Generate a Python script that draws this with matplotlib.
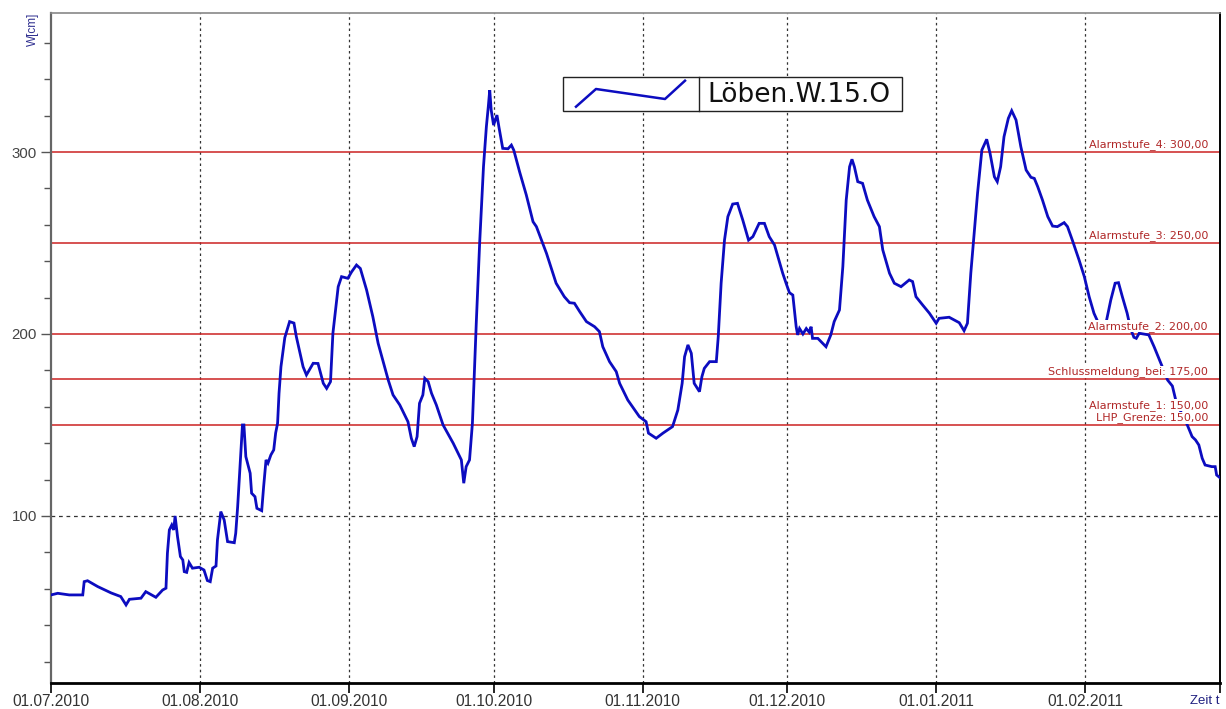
import numpy as np
import pandas as pd
import matplotlib
matplotlib.use("Agg")
import matplotlib.pyplot as plt
import matplotlib.dates as mdates
from matplotlib.patches import Rectangle
from matplotlib.lines import Line2D

plt.rcParams['font.family'] = ['Liberation Sans', 'DejaVu Sans']

# ---------------- data ----------------
start_date = "2010-07-01"
end_date = "2011-03-01"
series_name = "Löben.W.15.O"

# days since 01.07.2010
days = [0.0, 1.4, 3.8, 6.6, 6.9, 7.6, 9.7, 12.5, 14.5, 15.6, 16.3, 18.7, 19.7, 21.8, 23.2, 23.9,
        24.2, 24.6, 25.1, 25.5, 25.8, 26.3, 26.9, 27.4, 27.7, 28.2, 28.7, 29.4, 30.8, 31.8, 32.5,
        33.1, 33.6, 34.3, 34.6, 35.3, 36.0, 36.7, 38.1, 38.4, 38.8, 39.3, 39.8, 40.1, 40.5, 41.4,
        41.7, 42.4, 42.8, 43.8, 44.2, 44.7, 45.1, 45.7, 46.3, 46.7, 47.1, 47.4, 47.8, 48.6,
        49.6, 50.5, 51.0, 52.4, 53.1, 54.5, 55.5, 56.6, 57.3, 58.1, 58.6, 59.7, 60.4, 61.7, 62.5,
        63.5, 64.3, 65.6, 66.9, 68.0, 70.1, 71.1, 72.5, 74.2, 74.9, 75.5, 76.1, 76.6, 77.3, 77.7,
        78.4, 79.1, 80.1, 81.5, 83.6, 85.3, 85.8, 86.3, 87.0, 87.6, 88.4, 89.1, 89.9, 90.5, 90.9,
        91.2, 91.5, 92.0, 92.7, 93.1, 93.9, 95.0, 95.7, 96.2, 97.4, 98.8, 100.2,
        100.9, 103.0, 105.0, 106.7, 107.8, 108.8, 109.9, 111.3, 113.0, 114.0, 114.7, 116.1, 117.5,
        118.2, 119.9, 122.3, 123.7, 124.2, 125.8, 127.2, 129.2, 130.3, 131.2, 131.7, 132.4, 133.1,
        133.7, 134.8, 135.3, 135.8, 136.9, 138.3, 138.7, 139.3, 140.0, 140.7, 141.7, 142.7, 143.8,
        145.0, 145.9, 147.2, 148.3, 149.3, 150.4, 152.1,
        152.8, 153.5, 154.2, 154.9, 155.2, 155.6, 156.3, 157.0, 157.6, 158.0, 158.3, 159.4, 161.1,
        162.1, 162.8, 163.9, 164.6, 165.3, 166.0, 166.5, 167.0, 167.7, 168.7, 169.7, 171.1, 172.2,
        172.9, 174.3, 175.3, 176.7, 178.4, 179.1, 179.8, 181.2, 182.6, 184.0, 184.6, 186.7, 188.8,
        189.8, 190.5, 191.2, 191.9, 192.6, 193.5, 194.5, 195.2, 196.1, 196.7, 197.4, 198.1, 199.0,
        199.7, 200.6, 201.6, 202.7, 203.7,
        204.4, 205.1, 206.1, 207.2, 208.2, 209.2, 210.6, 211.3, 212.3, 213.7, 214.8, 215.8, 216.8,
        217.5, 218.3, 219.4, 220.3, 221.2, 221.9, 222.7, 223.7, 224.4, 225.1, 225.6, 226.2, 228.2,
        229.3, 231.0, 232.1, 233.1, 233.8, 234.9, 236.2, 237.2, 237.9, 238.6, 239.3, 239.9, 241.3,
        242.0, 242.3, 243.0]

level_cm = [56.6, 57.5, 56.6, 56.6, 63.9, 64.4, 61.2, 57.7, 55.7, 51.1, 54.2, 54.8, 58.4, 55.3, 59.3, 60.3,
            79.5, 92.3, 95.0, 92.3, 100.0, 88.6, 77.7, 75.8, 69.4, 69.0, 74.4, 71.3, 71.8, 70.3, 64.5,
            63.9, 71.3, 72.5, 86.8, 102.4, 97.8, 85.9, 85.3, 90.5, 105.1, 127.1, 150.0, 150.0, 132.6, 123.5,
            112.5, 110.6, 104.2, 102.9, 116.1, 130.8, 129.0, 133.5, 136.3, 145.6, 151.0, 167.4, 182.0, 198.0,
            206.8, 206.0, 198.5, 182.0, 177.5, 183.9, 183.8, 172.9, 170.1, 173.8, 200.4, 226.0, 231.5, 230.6, 234.2,
            237.9, 236.0, 224.2, 209.5, 194.9, 174.7, 166.5, 161.0, 151.8, 142.7, 138.1, 143.6, 161.9, 166.5, 175.6,
            173.8, 167.4, 161.0, 150.0, 140.0, 130.8, 118.0, 127.1, 130.8, 151.0, 205.9, 249.8, 291.9, 313.9, 324.9,
            334.0, 323.1, 314.8, 320.3, 313.9, 302.0, 301.8, 303.8, 301.0, 289.2, 276.4, 261.7,
            259.0, 244.3, 227.9, 220.5, 217.2, 216.9, 212.3, 206.8, 204.0, 201.3, 193.0, 184.8, 179.3,
            172.9, 163.7, 154.6, 151.8, 145.5, 142.7, 145.5, 149.1, 158.2, 172.9, 187.5, 194.0, 189.4,
            172.9, 168.3, 176.5, 181.1, 184.8, 184.8, 198.5, 227.9, 251.6, 264.5, 271.4, 271.8, 262.6,
            251.6, 253.5, 260.8, 260.8, 253.5, 248.9, 233.4,
            227.9, 222.7, 221.4, 204.0, 199.5, 203.0, 200.0, 203.0, 201.0, 204.0, 197.6, 197.6, 193.0,
            199.5, 206.8, 213.2, 237.0, 273.6, 291.9, 296.0, 291.9, 283.7, 282.8, 273.6, 264.5, 259.0,
            246.2, 233.4, 227.9, 226.0, 229.7, 228.8, 220.5, 215.9, 211.4, 205.9, 208.6, 209.2, 206.2,
            201.8, 205.9, 233.4, 255.3, 277.3, 301.1, 307.0, 299.3, 286.4, 283.7, 291.9, 308.4, 318.5,
            322.7, 317.6, 302.9, 290.1, 286.1,
            285.5, 281.0, 273.6, 264.5, 259.3, 259.0, 261.2, 259.0, 251.6, 240.7, 231.5, 220.5, 211.4,
            207.3, 203.0, 207.3, 218.7, 227.9, 228.2, 220.5, 211.4, 203.0, 198.2, 197.6, 200.4, 199.5,
            193.0, 182.0, 174.7, 171.4, 163.7, 157.0, 150.0, 143.6, 141.8, 139.0, 131.7, 128.0, 127.1,
            127.1, 122.5, 121.0]

threshold_values = [300, 250, 200, 175, 150, 150]
threshold_labels = ["Alarmstufe_4: 300,00", "Alarmstufe_3: 250,00", "Alarmstufe_2: 200,00",
                    "Schlussmeldung_bei: 175,00", "Alarmstufe_1: 150,00", "LHP_Grenze: 150,00"]

month_ticks = ["2010-07-01", "2010-08-01", "2010-09-01", "2010-10-01", "2010-11-01",
               "2010-12-01", "2011-01-01", "2011-02-01", "2011-03-01"]
month_tick_labels = ["01.07.2010", "01.08.2010", "01.09.2010", "01.10.2010", "01.11.2010",
                     "01.12.2010", "01.01.2011", "01.02.2011", ""]

y_major = [100, 200, 300]
y_minor = list(range(20, 380, 20))

# ---------------- figure ----------------
W, H = 1226, 709
fig = plt.figure(figsize=(W / 100, H / 100), dpi=100)
ax = fig.add_axes([51 / W, 1 - 683 / H, (1220 - 51) / W, (683 - 13) / H])

t0 = pd.Timestamp(start_date)
dates = t0 + pd.to_timedelta(np.array(days), unit="D")

ax.plot(dates, level_cm, color="#0c0cc0", lw=2.0, zorder=3, solid_joinstyle="miter")

ax.set_xlim(pd.Timestamp(start_date), pd.Timestamp(end_date))
ax.set_ylim(8.2, 376.4)

# threshold lines
for v in sorted(set(threshold_values)):
    ax.axhline(v, color="#cc2222", lw=1.1, zorder=2)

trans = ax.get_yaxis_transform()
label_x = (1208 - 51) / (1220 - 51)
offsets = [1.5, 1.5, 1.5, 1.5, 10.2, 1.3]
for v, lab, off in zip(threshold_values, threshold_labels, offsets):
    ax.annotate(lab, xy=(label_x, v), xycoords=trans, xytext=(0, off),
                textcoords="offset points", ha="right", va="bottom",
                fontsize=8.0, color="#b02828", zorder=5, family="DejaVu Sans",
                bbox=dict(boxstyle="square,pad=0.05", fc="white", ec="none"))

# grid
for d in month_ticks[1:-1]:
    ax.axvline(pd.Timestamp(d), color="#333333", lw=0.9, ls=(0, (2, 2.5)), zorder=1)
ax.axhline(100, color="#333333", lw=0.9, ls=(0, (3, 3)), zorder=1)

# ticks
ax.set_xticks([pd.Timestamp(d) for d in month_ticks])
ax.set_xticklabels(month_tick_labels, fontsize=11.2, color="#333333")
ax.set_yticks(y_major)
ax.set_yticklabels([str(v) for v in y_major], fontsize=10.8, color="#444444")
ax.set_yticks(y_minor, minor=True)
ax.tick_params(axis="y", which="major", length=7, width=1, color="#555555", pad=3)
ax.tick_params(axis="y", which="minor", length=5, width=1, color="#555555")
ax.tick_params(axis="x", which="major", length=7, width=1.2, color="black", pad=1)

ax.spines["left"].set_color("#666666")
ax.spines["left"].set_linewidth(1.6)
ax.spines["top"].set_color("#888888")
ax.spines["top"].set_linewidth(1.2)
ax.spines["right"].set_color("black")
ax.spines["right"].set_linewidth(1.4)
ax.spines["bottom"].set_color("black")
ax.spines["bottom"].set_linewidth(2.0)

# axis titles
fig.text(33 / W, 1 - 13 / H, "W[cm]", rotation=90, ha="center", va="top",
         fontsize=8.5, color="#303090")
fig.text(1219 / W, 1 - 701 / H, "Zeit t", ha="right", va="center",
         fontsize=9.5, color="#202080")

# legend box (drawn manually)
lx0, lx1, ly0, ly1, ldiv = 563, 902, 77, 111, 699
fig.patches.append(Rectangle((lx0 / W, 1 - ly1 / H), (lx1 - lx0) / W, (ly1 - ly0) / H,
                             transform=fig.transFigure, fc="white", ec="#222222", lw=1.0, zorder=10))
fig.lines.append(Line2D([ldiv / W, ldiv / W], [1 - ly1 / H, 1 - ly0 / H],
                        transform=fig.transFigure, color="#222222", lw=1.0, zorder=11))
sx = np.array([576, 596, 665, 685]) / W
sy = 1 - np.array([106.7, 89, 99, 80.7]) / H
fig.lines.append(Line2D(sx, sy, transform=fig.transFigure, color="#0c0cc0", lw=1.8, zorder=11))
fig.text(707 / W, 1 - 95 / H, series_name, ha="left", va="center", fontsize=19,
         family="DejaVu Sans", color="#111111", zorder=12)

fig.savefig("out.png", dpi=100)
